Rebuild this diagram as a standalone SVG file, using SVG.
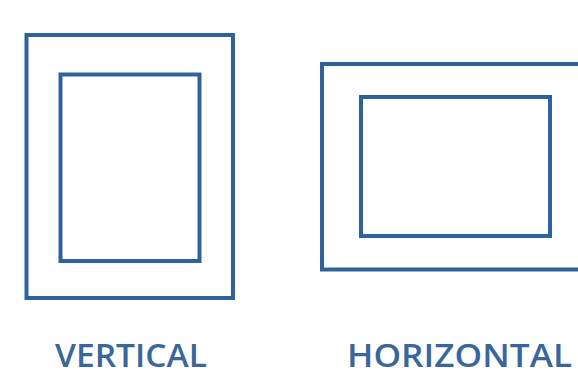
<svg xmlns="http://www.w3.org/2000/svg" width="578" height="376" viewBox="0 0 578 376">
<style>
.frame{fill:none;stroke:#2f629c;stroke-width:4}
.lbl{font-family:"Open Sans","Liberation Sans",sans-serif;font-weight:600;font-size:32px;fill:#3a679b;text-anchor:middle}
</style>
<rect width="578" height="376" fill="#ffffff"/>
<g id="vertical">
<rect class="frame" x="26.5" y="35" width="206.5" height="263"/>
<rect class="frame" x="60.5" y="74.5" width="139" height="186.5"/>
<text class="lbl" x="131" y="367" textLength="152" lengthAdjust="spacingAndGlyphs">VERTICAL</text>
</g>
<g id="horizontal">
<rect class="frame" x="322" y="64" width="270" height="205.5"/>
<rect class="frame" x="361" y="97" width="189" height="139"/>
<text class="lbl" x="459.5" y="367" textLength="225" lengthAdjust="spacingAndGlyphs">HORIZONTAL</text>
</g>
</svg>
